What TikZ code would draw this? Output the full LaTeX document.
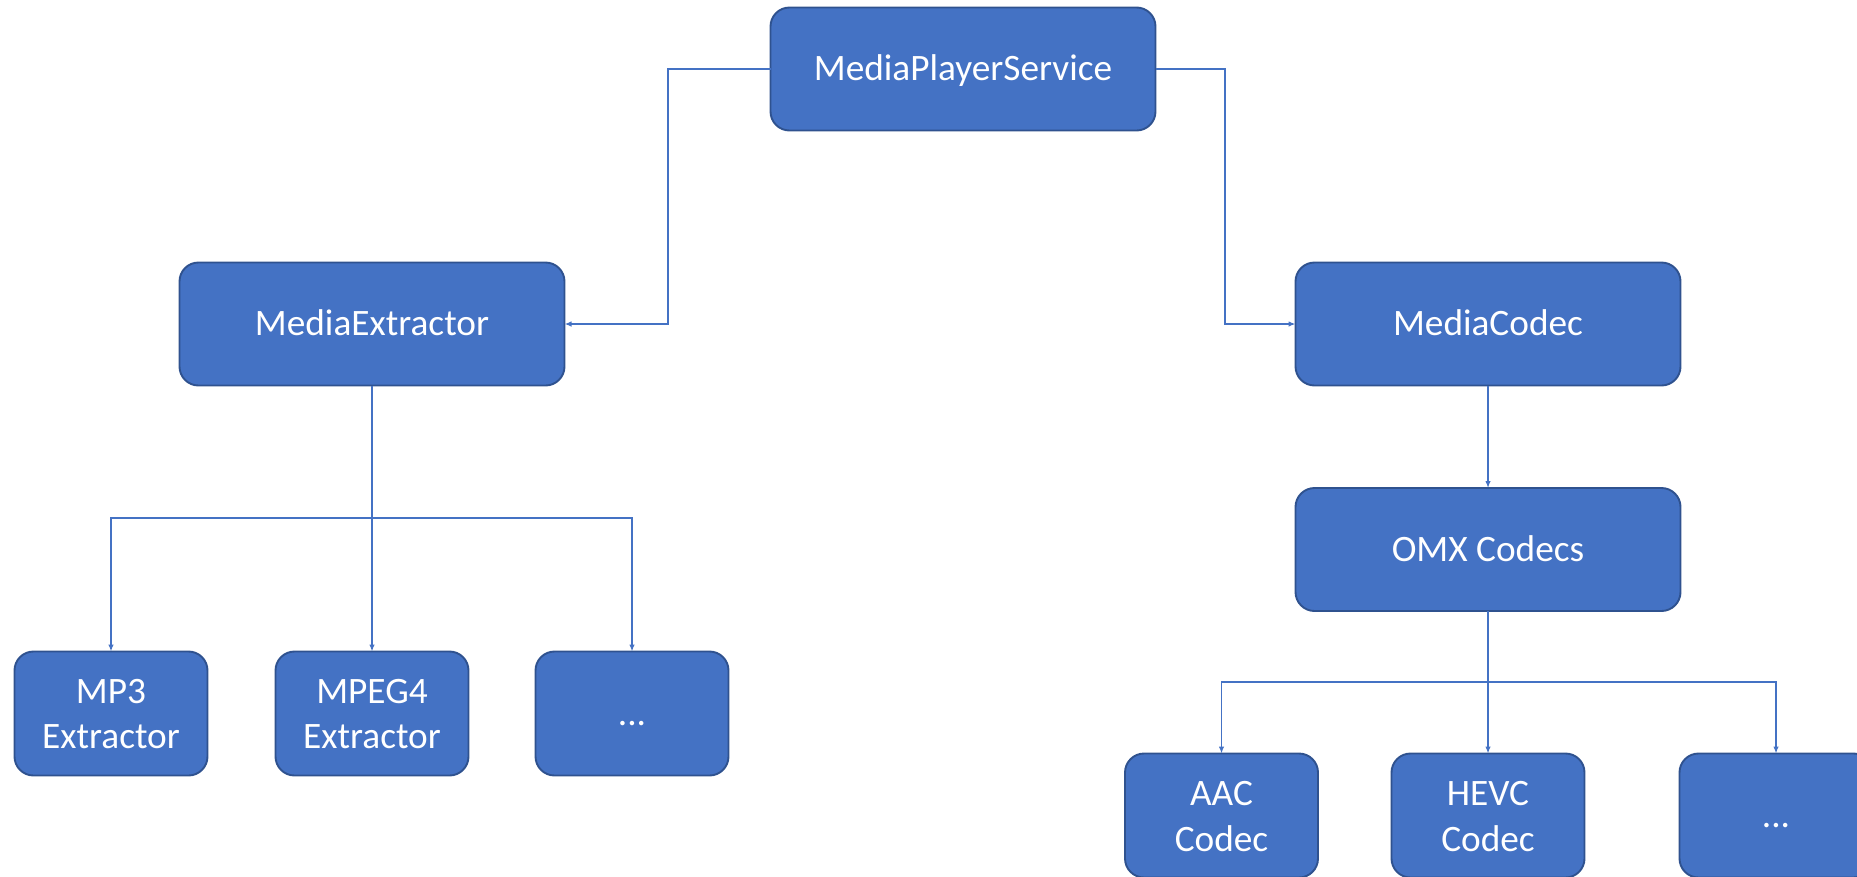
\documentclass[tikz,border=0pt]{standalone}
\usepackage{fontspec}
\setmainfont{Carlito}
\usetikzlibrary{arrows.meta}
\definecolor{boxfill}{HTML}{4472C4}
\definecolor{boxline}{HTML}{2F528F}
\definecolor{wire}{HTML}{4472C4}
\begin{document}
\begin{tikzpicture}[x=1pt,y=-1pt,
  bigbox/.style={draw=boxline, line width=1.9pt, fill=boxfill, rounded corners=19pt,
    minimum width=385pt, minimum height=123pt, inner sep=0pt, outer sep=0pt},
  smallbox/.style={draw=boxline, line width=1.9pt, fill=boxfill, rounded corners=19pt,
    minimum width=193pt, minimum height=124pt, inner sep=0pt, outer sep=0pt},
  lbl/.style={text=white, font=\fontsize{37.3}{45}\selectfont, inner sep=0pt, anchor=base},
  wireline/.style={draw=wire, line width=1.3pt},
  arr/.style={wireline, -{Latex[length=7pt,width=5.5pt]}}]
\useasboundingbox (0,0) rectangle (1857,876);
\clip (0,0) rectangle (1857,876);

% top level service
\node[bigbox] (mps) at (963,69) {};
\node[lbl] (mpsT) at ([yshift=-11.5pt]mps.center) {MediaPlayerService};

% extractor branch
\node[bigbox] (mex) at (372,324) {};
\node[lbl] (mexT) at ([yshift=-11.5pt]mex.center) {MediaExtractor};

\node[smallbox] (mp3) at (111,713.5) {};
\node[lbl] (mp3a) at ([yshift=10.5pt]mp3.center) {MP3};
\node[lbl] (mp3b) at ([yshift=-34.5pt]mp3.center) {Extractor};

\node[smallbox] (mpeg4) at (372,713.5) {};
\node[lbl] (mpeg4a) at ([yshift=10.5pt]mpeg4.center) {MPEG4};
\node[lbl] (mpeg4b) at ([yshift=-34.5pt]mpeg4.center) {Extractor};

\node[smallbox] (ext3) at (632,713.5) {};
\node[lbl] (ext3T) at ([yshift=-11.5pt]ext3.center) {...};

% codec branch
\node[bigbox] (mcodec) at (1488,324) {};
\node[lbl] (mcodecT) at ([yshift=-11.5pt]mcodec.center) {MediaCodec};

\node[bigbox] (omx) at (1488,549.5) {};
\node[lbl] (omxT) at ([yshift=-11.5pt]omx.center) {OMX Codecs};

\node[smallbox] (aac) at (1221.5,815.5) {};
\node[lbl] (aaca) at ([yshift=10.5pt]aac.center) {AAC};
\node[lbl] (aacb) at ([yshift=-36pt]aac.center) {Codec};

\node[smallbox] (hevc) at (1488,815.5) {};
\node[lbl] (hevca) at ([yshift=10.5pt]hevc.center) {HEVC};
\node[lbl] (hevcb) at ([yshift=-36pt]hevc.center) {Codec};

\node[smallbox] (cod3) at (1776,815.5) {};
\node[lbl] (cod3T) at ([yshift=-11.5pt]cod3.center) {...};

% connectors
\draw[arr] (mps.west) -- ++(-102.5,0) |- (mex.east);
\draw[arr] (mps.east) -- ++(69.5,0) |- (mcodec.west);
\draw[arr] (mcodec.south) -- (omx.north);

\coordinate (hubA) at (372,518);
\draw[wireline] (mex.south) -- (hubA);
\draw[arr] (hubA) -| (mp3.north);
\draw[arr] (hubA) -- (mpeg4.north);
\draw[arr] (hubA) -| (ext3.north);

\coordinate (hubB) at (1488,682);
\draw[wireline] (omx.south) -- (hubB);
\draw[arr] (hubB) -| (aac.north);
\draw[arr] (hubB) -- (hevc.north);
\draw[arr] (hubB) -| (cod3.north);
\end{tikzpicture}
\end{document}
